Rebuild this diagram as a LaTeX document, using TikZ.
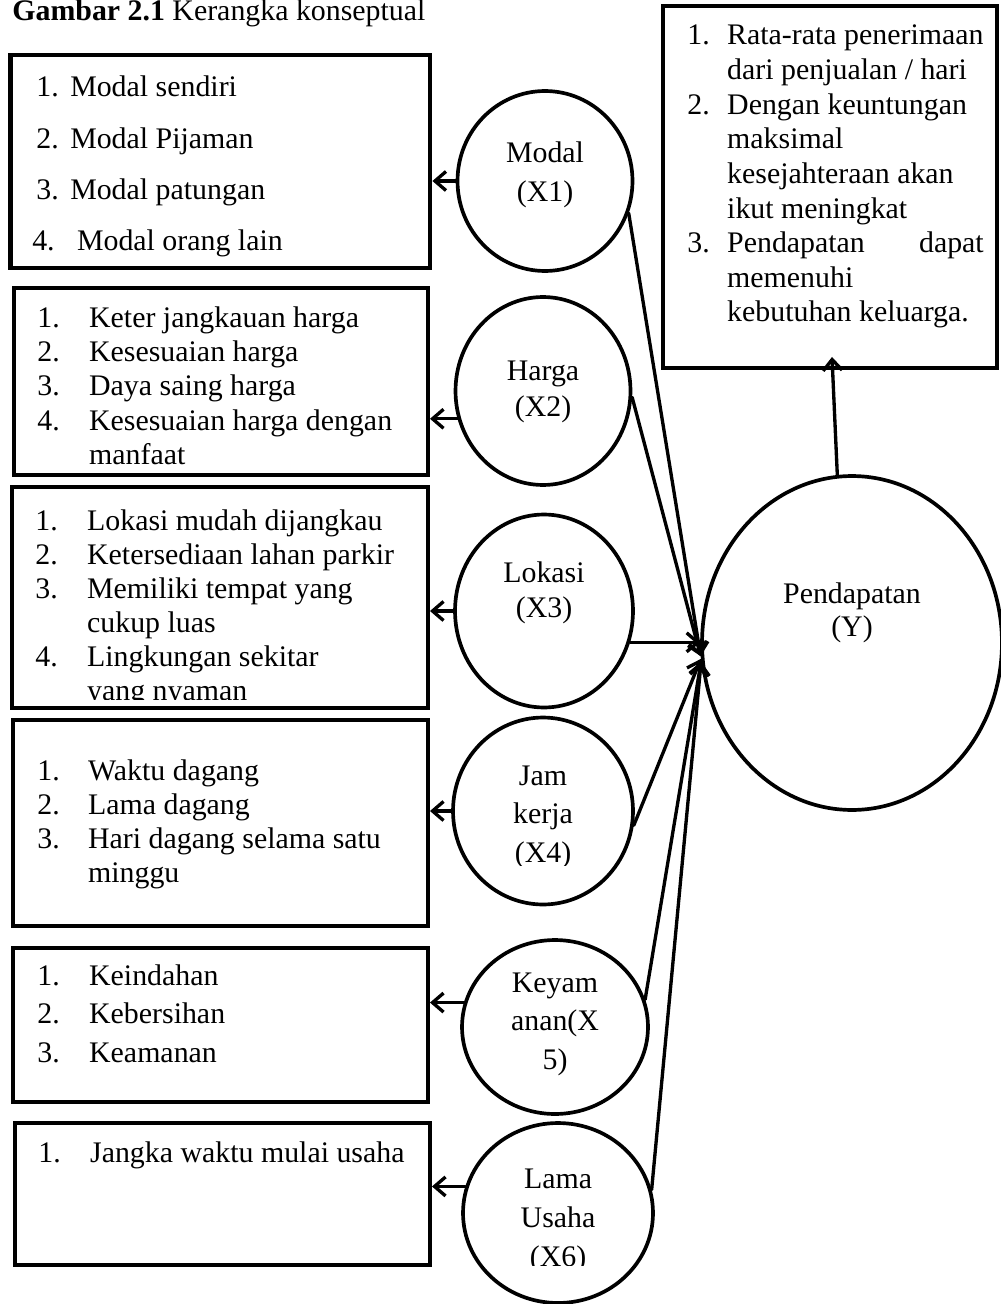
\documentclass[tikz,border=0pt]{standalone}
\usepackage{fontspec}
\setmainfont{Liberation Serif}
\usetikzlibrary{arrows.meta,calc,shapes.geometric}
\tikzset{
  box/.style={
    draw=black,
    line width=2.3pt,
    inner sep=0pt
  },
  var/.style={
    ellipse,
    draw=black,
    line width=2.1pt,
    inner sep=0pt
  },
  items/.style={anchor=base west, inner sep=0pt, font=\fontsize{17}{#1}\selectfont},
  varlabel/.style={anchor=base, inner sep=0pt, font=\fontsize{17}{#1}\selectfont},
  link/.style={
    draw=black,
    line width=1.9pt,
    line cap=round,
    -{Straight Barb[length=2.2mm,width=3.8mm]}
  }
}

\begin{document}
\begin{tikzpicture}[x=0.02cm, y=-0.02cm]
  \useasboundingbox (0,0) rectangle (1000,1304);

  \node[anchor=base west, inner sep=0pt, font=\fontsize{17}{20}\selectfont] (title) at (12,21)
    {\textbf{Gambar 2.1} Kerangka konseptual};

  % indicator boxes
  \node[box, line width=2.8pt, minimum width=8.4cm, minimum height=4.26cm] (imodal) at (220,161.5) {};
  \node[box, minimum width=8.28cm, minimum height=3.74cm] (iharga) at (221,381.5) {};
  \node[box, minimum width=8.32cm, minimum height=4.42cm] (ilokasi) at (220,597.5) {};
  \node[box, minimum width=8.3cm, minimum height=4.12cm] (ijam) at (220.5,823) {};
  \node[box, minimum width=8.3cm, minimum height=3.08cm] (ikeyamanan) at (220.5,1025) {};
  \node[box, minimum width=8.3cm, minimum height=2.84cm] (ilama) at (222.5,1194) {};
  \node[box, minimum width=6.68cm, minimum height=7.24cm] (ipend) at (830,187) {};

  \node[items=29.1pt] (tmodal) at (36,97) {\begin{tabular}[t]{@{}p{19.3pt}@{}l@{}}
    1. & Modal sendiri\\
    2. & Modal Pijaman\\
    3. & Modal patungan\\
    \multicolumn{2}{@{\hspace{-2.3pt}}l@{}}{4.\hspace{12.7pt}Modal orang lain}
  \end{tabular}};
  \node[items=19.6pt] (tharga) at (37,327) {\begin{tabular}[t]{@{}p{29.5pt}@{}l@{}}
    1. & Keter jangkauan harga\\
    2. & Kesesuaian harga\\
    3. & Daya saing harga\\
    4. & Kesesuaian harga dengan\\
       & manfaat
  \end{tabular}};
  \begin{scope}
    \clip (ilokasi.north west) rectangle ($(ilokasi.south east)+(0,-11)$);
    \node[items=19.4pt] (tlokasi) at (35,530) {\begin{tabular}[t]{@{}p{29.5pt}@{}l@{}}
      1. & Lokasi mudah dijangkau\\
      2. & Ketersediaan lahan parkir\\
      3. & Memiliki tempat yang\\
         & cukup luas\\
      4. & Lingkungan sekitar\\
         & yang nyaman
    \end{tabular}};
  \end{scope}
  \node[items=19.45pt] (tjam) at (37,780) {\begin{tabular}[t]{@{}p{28.9pt}@{}l@{}}
    1. & Waktu dagang\\
    2. & Lama dagang\\
    3. & Hari dagang selama satu\\
       & minggu
  \end{tabular}};
  \node[items=22.1pt] (tkeyamanan) at (37,985) {\begin{tabular}[t]{@{}p{29.5pt}@{}l@{}}
    1. & Keindahan\\
    2. & Kebersihan\\
    3. & Keamanan
  \end{tabular}};
  \node[items=19.6pt] (tlama) at (38,1162) {\begin{tabular}[t]{@{}p{29.5pt}@{}l@{}}
    1. & Jangka waktu mulai usaha
  \end{tabular}};
  \node[items=19.7pt] (tpend) at (687,45) {\begin{tabular}[t]{@{}p{22.7pt}@{}l@{}}
    1. & Rata-rata penerimaan\\
       & dari penjualan / hari\\
    2. & Dengan keuntungan\\
       & maksimal\\
       & kesejahteraan akan\\
       & ikut meningkat\\
    3. & \makebox[146pt][l]{Pendapatan\hfill dapat}\\
       & memenuhi\\
       & kebutuhan keluarga.
  \end{tabular}};

  % variables
  \node[var, minimum width=3.5cm, minimum height=3.6cm] (modal) at (545,181) {};
  \node[var, minimum width=3.5cm, minimum height=3.76cm] (harga) at (543,391) {};
  \node[var, minimum width=3.56cm, minimum height=3.86cm] (lokasi) at (544,611) {};
  \node[var, minimum width=3.6cm, minimum height=3.74cm] (jam) at (543,811) {};
  \node[var, minimum width=3.72cm, minimum height=3.48cm] (keyamanan) at (555,1027) {};
  \node[var, minimum width=3.8cm, minimum height=3.6cm] (lama) at (558,1213) {};
  \node[var, minimum width=6cm, minimum height=6.68cm] (pend) at (852,643) {};

  \node[varlabel=22.1pt] (lmodal) at (545,163) {\begin{tabular}[t]{@{}c@{}}Modal\\(X1)\end{tabular}};
  \node[varlabel=21pt] (lharga) at (543,380) {\begin{tabular}[t]{@{}c@{}}Harga\\(X2)\end{tabular}};
  \node[varlabel=20.4pt] (llokasi) at (544,582) {\begin{tabular}[t]{@{}c@{}}Lokasi\\(X3)\end{tabular}};
  \begin{scope}
    \clip (440,700) rectangle (650,865);
    \node[varlabel=22pt] (ljam) at (543,785) {\begin{tabular}[t]{@{}c@{}}Jam\\kerja\\(X4)\end{tabular}};
  \end{scope}
  \node[varlabel=22.1pt] (lkeyamanan) at (555,992) {\begin{tabular}[t]{@{}c@{}}Keyam\\anan(X\\5)\end{tabular}};
  \begin{scope}
    \clip (440,1100) rectangle (660,1265);
    \node[varlabel=22.4pt] (llama) at (558,1188) {\begin{tabular}[t]{@{}c@{}}Lama\\Usaha\\(X6)\end{tabular}};
  \end{scope}
  \node[varlabel=19.3pt] (lpend) at (852,603) {\begin{tabular}[t]{@{}c@{}}Pendapatan\\(Y)\end{tabular}};

  % variables to indicators
  \draw[link] (modal.west) -- (modal.west -| imodal.east);
  \draw[link] (harga.198) -- (harga.198 -| iharga.east);
  \draw[link] (lokasi.west) -- (lokasi.west -| ilokasi.east);
  \draw[link] (jam.west) -- (jam.west -| ijam.east);
  \draw[link] (keyamanan.165) -- (keyamanan.165 -| ikeyamanan.east);
  \draw[link] (lama.164) -- (lama.164 -| ilama.east);

  % variables to Pendapatan
  \draw[link] (modal.339) -- (pend.185);
  \draw[link] (harga.356) -- (pend.185);
  \draw[link] (lokasi.340) -- (lokasi.340 -| pend.west);
  \draw[link] (jam.351) -- (pend.186);
  \draw[link] (keyamanan.17) -- (pend.187);
  \draw[link] (lama.14) -- (pend.187);

  \draw[link] (pend.95) -- ($(ipend.south)+(2,-13)$);
\end{tikzpicture}
\end{document}
